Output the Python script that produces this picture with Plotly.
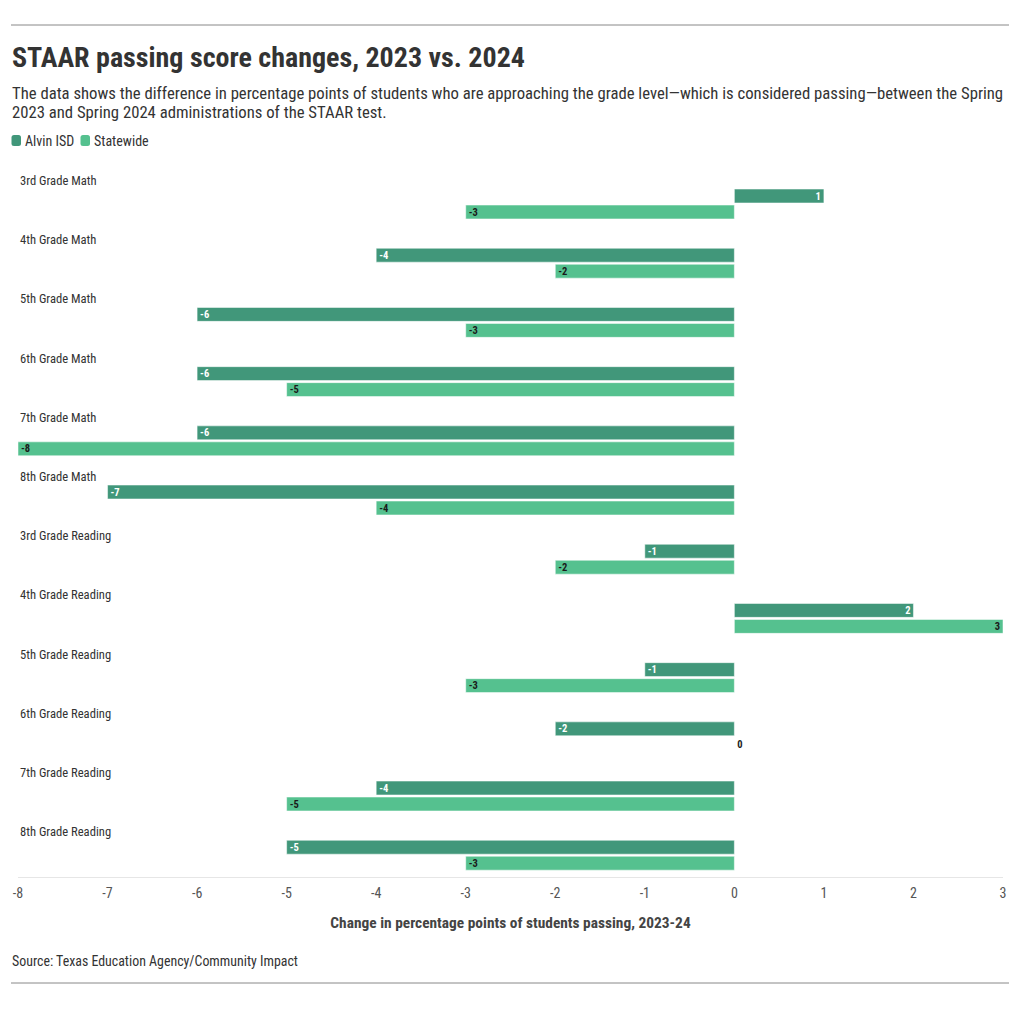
import plotly.graph_objects as go

categories = ["3rd Grade Math", "4th Grade Math", "5th Grade Math", "6th Grade Math",
              "7th Grade Math", "8th Grade Math", "3rd Grade Reading", "4th Grade Reading",
              "5th Grade Reading", "6th Grade Reading", "7th Grade Reading", "8th Grade Reading"]
alvin = [1, -4, -6, -6, -6, -7, -1, 2, -1, -2, -4, -5]
statewide = [-3, -2, -3, -5, -8, -4, -2, 3, -3, 0, -5, -3]
x_ticks = [-8, -7, -6, -5, -4, -3, -2, -1, 0, 1, 2, 3]
series_names = ["Alvin ISD", "Statewide"]
subtitle_lines = [
    "The data shows the difference in percentage points of students who are approaching the grade level\u2014which is considered passing\u2014between the Spring",
    "2023 and Spring 2024 administrations of the STAAR test.",
]

FONT = "Roboto Condensed, Liberation Sans Narrow, DejaVu Sans Condensed, Roboto, sans-serif"
C_ALVIN = "#41977a"
C_STATE = "#55c18f"
colors = [C_ALVIN, C_STATE]

W, H = 1020, 1009
L, R, T, B = 18, 17, 166, 132
PH = H - T - B
PW = W - L - R


def py(Y):
    return (H - B - Y) / PH


def px(X):
    return (X - L) / PW


fig = go.Figure()
for name, vals, col, tcol in [(series_names[0], alvin, C_ALVIN, "white"),
                              (series_names[1], statewide, C_STATE, "#1a1a1a")]:
    fig.add_trace(go.Bar(
        y=categories, x=vals, orientation="h", name=name,
        marker=dict(color=col, line=dict(color="rgba(255,255,255,0.5)", width=1)),
        text=[str(v) for v in vals],
        textposition=["inside" if v != 0 else "outside" for v in vals],
        insidetextanchor="end", textangle=0,
        textfont=dict(family=FONT, size=10.5, color=tcol, weight="bold"),
        insidetextfont=dict(family=FONT, size=10.5, color=tcol, weight="bold"),
        outsidetextfont=dict(family=FONT, size=10.5, color="#222", weight="bold"),
        cliponaxis=False, hoverinfo="skip", showlegend=False,
    ))

annotations = []
for c in categories:
    annotations.append(dict(x=0, xref="paper", y=c, yref="y", text=c, showarrow=False,
                            xanchor="left", yanchor="middle", xshift=0, yshift=23.5,
                            font=dict(family=FONT, size=12.6, color="#333")))

annotations.append(dict(x=px(10), y=py(57), xref="paper", yref="paper", xanchor="left",
                        yanchor="middle", text="<b>STAAR passing score changes, 2023 vs. 2024</b>",
                        showarrow=False, font=dict(family=FONT, size=28, color="#333")))
for line, ly in zip(subtitle_lines, [93, 112]):
    annotations.append(dict(x=px(10), y=py(ly), xref="paper", yref="paper", xanchor="left",
                            yanchor="middle", text=line, showarrow=False,
                            font=dict(family=FONT, size=16.7, color="#333")))
annotations.append(dict(x=px(10), y=py(961), xref="paper", yref="paper", xanchor="left",
                        yanchor="middle", text="Source: Texas Education Agency/Community Impact",
                        showarrow=False, font=dict(family=FONT, size=13.9, color="#333")))

shapes = [
    dict(type="line", xref="paper", yref="paper", x0=px(11), x1=px(1009), y0=py(25), y1=py(25),
         line=dict(color="#888", width=1)),
    dict(type="line", xref="paper", yref="paper", x0=px(11), x1=px(1009), y0=py(983), y1=py(983),
         line=dict(color="#888", width=1)),
]

# legend (swatch + label)
legend_x = [11.5, 80.5]
legend_text_x = [23, 92]
LY = 140.5
for nm, col, sx, tx in zip(series_names, colors, legend_x, legend_text_x):
    x0, x1, y0, y1, r = sx, sx + 9.5, LY - 5.5, LY + 5.5, 2.5
    path = (f"M {px(x0 + r)},{py(y0)} L {px(x1 - r)},{py(y0)} Q {px(x1)},{py(y0)} {px(x1)},{py(y0 + r)} "
            f"L {px(x1)},{py(y1 - r)} Q {px(x1)},{py(y1)} {px(x1 - r)},{py(y1)} "
            f"L {px(x0 + r)},{py(y1)} Q {px(x0)},{py(y1)} {px(x0)},{py(y1 - r)} "
            f"L {px(x0)},{py(y0 + r)} Q {px(x0)},{py(y0)} {px(x0 + r)},{py(y0)} Z")
    shapes.append(dict(type="path", xref="paper", yref="paper", path=path,
                       fillcolor=col, line=dict(width=0)))
    annotations.append(dict(x=px(tx), y=py(LY + 1), xref="paper", yref="paper", xanchor="left",
                            yanchor="middle", text=nm, showarrow=False,
                            font=dict(family=FONT, size=14, color="#333")))

fig.update_layout(
    width=W, height=H, margin=dict(l=L, r=R, t=T, b=B, pad=0, autoexpand=False),
    paper_bgcolor="white", plot_bgcolor="white",
    barmode="group", bargap=0.46, bargroupgap=0.13,
    uniformtext=dict(minsize=10.5, mode="show"),
    font=dict(family=FONT, color="#333"),
    showlegend=False,
    annotations=annotations, shapes=shapes,
    xaxis=dict(range=[-8, 3], tickvals=x_ticks, ticktext=[str(v) for v in x_ticks],
               showgrid=False, zeroline=False, showline=True, linecolor="#e6e6e6", linewidth=1,
               ticks="", ticklabelstandoff=3, tickfont=dict(family=FONT, size=14, color="#555"),
               title=dict(text="<b>Change in percentage points of students passing, 2023-24</b>",
                          font=dict(family=FONT, size=15.4, color="#444"), standoff=17)),
    yaxis=dict(categoryorder="array", categoryarray=categories,
               range=[11.368, -0.642], showticklabels=False, showgrid=False,
               zeroline=False, showline=False, ticks=""),
)

fig.write_html("out.html")
